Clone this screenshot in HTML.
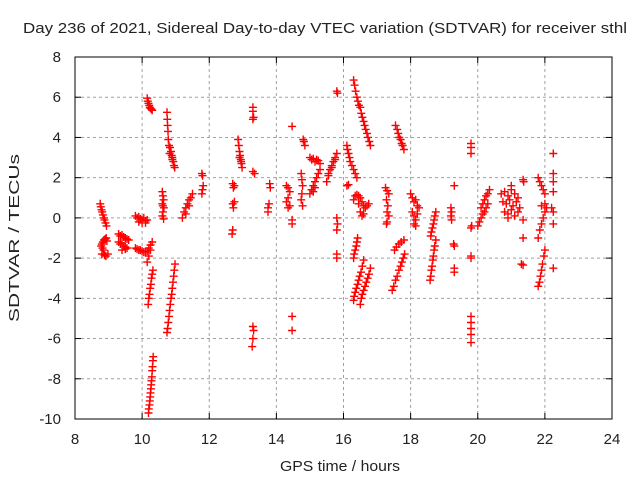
<!DOCTYPE html>
<html><head><meta charset="utf-8"><style>
html,body{margin:0;padding:0;background:#fff;}
svg{display:block;font-family:"Liberation Sans",sans-serif;}
</style></head><body>
<svg id="chart" width="640" height="480" viewBox="0 0 640 480">
<text x="325" y="33" text-anchor="middle" font-size="15" textLength="604" lengthAdjust="spacingAndGlyphs" fill="#222">Day 236 of 2021, Sidereal Day-to-day VTEC variation (SDTVAR) for receiver sthl</text>
<text x="340" y="471" text-anchor="middle" font-size="15" textLength="120" lengthAdjust="spacingAndGlyphs" fill="#222">GPS time / hours</text>
<text transform="translate(19,238) rotate(-90)" text-anchor="middle" font-size="15" textLength="168" lengthAdjust="spacingAndGlyphs" fill="#222">SDTVAR / TECUs</text>
<g id="grid"></g>
<g id="ticks"></g>
<g id="marks"></g>
<rect x="75" y="57" width="537" height="362" fill="none" stroke="#000" stroke-width="1"></rect>
</svg>
<script>
const xTicks = [8,10,12,14,16,18,20,22,24];
const yTicks = [-10,-8,-6,-4,-2,0,2,4,6,8];
const hours = [
8.75,8.77,8.79,8.81,8.83,8.86,8.88,8.91,8.94,
8.78,8.8,8.83,8.86,8.9,8.93,8.95,8.82,8.85,8.8,8.88,8.92,8.98,
9.3,9.35,9.4,9.45,9.5,9.55,9.6,9.3,9.35,9.4,9.45,9.5,9.55,9.4,9.5,
9.8,9.85,9.9,9.95,10.0,10.05,10.1,10.15,9.9,10.0,10.1,
9.8,9.85,9.9,9.95,10.0,10.05,10.1,10.15,10.2,10.25,10.3,10.25,10.2,10.15,
10.32,10.3,10.28,10.26,10.24,10.22,10.2,10.18,
10.33,10.32,10.31,10.3,10.29,10.28,10.27,10.26,10.25,10.24,10.23,10.22,10.2,10.19,
10.15,10.17,10.19,10.21,10.23,10.25,10.28,10.3,
10.74,10.75,10.76,10.77,10.78,10.8,10.83,10.86,10.88,10.9,10.93,10.95,10.97,10.82,10.9,
10.98,10.96,10.94,10.92,10.9,10.88,10.86,10.84,10.82,10.8,10.78,10.76,10.74,
10.6,10.62,10.64,10.6,10.65,10.62,10.6,10.64,10.62,
11.2,11.25,11.3,11.35,11.4,11.45,11.5,11.3,11.4,
11.78,11.8,11.82,11.8,11.78,
13.3,13.3,13.32,13.3,
12.86,12.88,12.9,12.92,12.94,12.96,12.98,12.9,12.95,
13.3,13.35,12.7,12.75,12.72,12.7,12.72,12.75,12.68,12.7,
13.8,13.82,13.75,13.78,13.75,
13.3,13.32,13.3,13.28,
14.47,14.8,14.82,14.85,
15.0,15.05,15.1,15.15,15.2,15.25,15.3,
15.5,15.55,15.6,15.65,15.7,15.75,15.8,15.55,15.65,15.75,
15.0,15.05,15.1,15.15,15.2,15.25,15.3,15.1,15.15,
14.74,14.76,14.78,14.76,14.74,14.78,
14.3,14.35,14.4,14.35,14.3,14.4,14.35,
14.47,14.47,15.8,15.82,15.8,15.82,15.8,15.8,15.8,14.47,14.47,
16.3,16.33,16.36,16.4,16.43,16.46,16.5,16.53,16.56,16.6,16.63,16.66,16.7,16.73,16.77,16.8,
17.55,17.6,17.63,17.66,17.7,17.73,17.76,17.8,
16.1,16.12,16.15,16.18,16.2,16.25,16.3,16.35,16.4,16.1,16.15,
16.3,16.35,16.4,16.45,16.5,16.55,16.6,16.65,16.7,16.75,16.5,16.55,16.6,16.45,
17.25,17.3,17.35,17.28,17.32,17.3,17.35,17.28,17.3,
18.0,18.05,18.1,18.15,18.2,18.25,18.05,18.1,18.15,18.2,18.1,18.15,
16.42,16.4,16.38,16.35,16.32,16.3,
16.6,16.56,16.52,16.48,16.45,16.42,16.38,16.35,16.32,16.3,
16.8,16.76,16.72,16.68,16.64,16.6,16.56,16.53,16.5,
17.8,17.72,17.65,17.58,17.52,
17.82,17.78,17.74,17.7,17.65,17.6,17.55,17.5,17.45,
18.75,18.72,18.7,18.68,18.65,18.62,18.6,
18.75,18.72,18.7,18.68,18.66,18.64,18.62,18.6,18.58,
19.3,19.2,19.22,19.2,19.22,19.3,19.28,19.3,19.3,
19.8,19.8,19.8,19.8,19.82,19.8,19.8,19.8,19.8,19.8,19.8,19.8,
20.1,20.15,20.2,20.25,20.3,20.35,
20.0,20.05,20.1,20.15,20.2,20.25,20.3,
20.7,20.8,20.9,21.0,21.1,21.2,20.75,20.85,20.95,21.05,21.15,21.25,20.8,20.9,21.0,21.1,21.2,20.9,21.0,
21.35,21.37,21.35,21.35,21.3,21.35,
21.8,21.85,21.9,21.95,22.0,
21.9,22.0,22.05,
22.0,21.95,21.9,21.85,21.8,
22.0,21.97,21.93,21.9,21.87,21.84,21.8,
22.25,22.25,22.25,22.25,22.2,22.25,22.25,22.25
];
const sdtvar = [
0.7,0.55,0.4,0.3,0.15,0,-0.1,-0.25,-0.4,
-1.4,-1.3,-1.2,-1.1,-1.05,-1.0,-1.15,-1.5,-1.6,-1.8,-1.85,-1.9,-1.8,
-0.8,-0.9,-0.85,-0.95,-1.0,-1.05,-1.1,-1.2,-1.3,-1.25,-1.4,-1.45,-1.5,-1.6,-1.55,
0.1,0.0,0.05,-0.05,-0.1,0.0,-0.15,-0.1,-0.2,-0.25,-0.25,
-1.5,-1.55,-1.6,-1.6,-1.65,-1.7,-1.7,-1.65,-1.5,-1.35,-1.2,-1.6,-1.9,-2.2,
-2.6,-2.8,-3.0,-3.3,-3.5,-3.8,-4.0,-4.3,
-6.9,-7.1,-7.4,-7.6,-7.9,-8.1,-8.3,-8.5,-8.7,-8.9,-9.1,-9.3,-9.5,-9.7,
5.95,5.8,5.7,5.6,5.5,5.45,5.4,5.35,
5.25,4.9,4.6,4.3,3.9,3.6,3.5,3.3,3.1,2.9,2.8,2.6,2.5,3.2,3.0,
-2.3,-2.6,-2.9,-3.2,-3.5,-3.8,-4.0,-4.3,-4.6,-4.9,-5.2,-5.5,-5.7,
1.3,1.1,0.9,0.7,0.5,0.3,0.1,-0.05,0.6,
0.0,0.3,0.5,0.7,0.9,1.0,1.2,0.2,0.6,
2.2,2.1,1.6,1.4,1.2,
5.5,5.3,5.0,4.9,
3.9,3.6,3.3,3.1,2.9,2.7,2.5,3.0,2.8,
2.3,2.2,1.7,1.6,1.5,0.7,0.5,0.8,-0.8,-0.6,
1.7,1.5,0.5,0.7,0.3,
-5.4,-5.6,-6.0,-6.4,
4.55,3.9,3.8,3.6,
3.0,2.9,2.95,2.8,2.9,2.85,2.7,
1.8,2.1,2.4,2.6,2.8,3.0,3.2,2.2,2.5,2.9,
1.2,1.4,1.6,1.8,2.0,2.2,2.4,1.3,1.5,
2.2,1.9,1.6,1.2,0.9,0.6,
1.6,1.5,1.3,1.0,0.8,0.6,0.5,
-0.1,-0.3,6.3,6.2,0.0,-0.3,-0.6,-1.8,-2.0,-4.9,-5.6,
6.85,6.6,6.3,6.0,5.8,5.6,5.5,5.2,5.0,4.8,4.6,4.4,4.2,4.0,3.8,3.6,
4.6,4.4,4.2,4.0,3.9,3.7,3.6,3.4,
3.6,3.4,3.2,3.0,2.8,2.6,2.4,2.2,2.0,1.6,1.65,
0.9,1.1,1.15,1.1,1.0,0.8,0.6,0.5,0.6,0.7,0.3,0.1,0.2,0.7,
1.5,1.35,1.2,0.9,0.6,0.3,0.1,-0.3,-0.2,
1.2,1.0,0.8,0.9,0.6,0.5,0.3,0.1,-0.1,0.2,-0.3,-0.4,
-1.0,-1.2,-1.4,-1.6,-1.8,-2.0,
-2.1,-2.4,-2.7,-2.9,-3.1,-3.3,-3.5,-3.7,-3.9,-4.1,
-2.5,-2.8,-3.0,-3.2,-3.4,-3.6,-3.8,-4.0,-4.3,
-1.1,-1.2,-1.3,-1.45,-1.6,
-1.8,-2.0,-2.2,-2.4,-2.6,-2.9,-3.1,-3.4,-3.6,
0.3,0.1,-0.1,-0.3,-0.5,-0.7,-0.9,
-1.1,-1.4,-1.6,-1.9,-2.1,-2.4,-2.6,-2.9,-3.1,
1.6,0.5,0.3,0.1,-0.1,-1.4,-1.3,-2.5,-2.7,
3.7,3.5,3.2,-0.5,-0.4,-1.9,-2.0,-4.9,-5.2,-5.5,-5.8,-6.2,
0.5,0.7,0.9,1.1,1.2,1.4,
-0.4,-0.2,0.0,0.2,0.3,0.5,0.7,
1.2,1.3,1.1,1.4,1.2,1.0,0.8,0.7,0.9,0.6,0.8,0.5,0.3,0.2,0.4,0.1,0.3,0.0,1.6,
1.9,1.8,-0.1,-1.0,-2.3,-2.35,
2.0,1.8,1.6,1.4,1.2,
0.6,0.7,0.5,
0.3,0.0,-0.3,-0.6,-1.0,
-1.6,-1.9,-2.3,-2.6,-2.9,-3.2,-3.4,
3.2,2.2,1.8,1.3,0.5,0.3,-0.3,-2.5
];
const NS='http://www.w3.org/2000/svg';
const L=75,R=612,T=57,B=419,XMIN=8,XMAX=24,YMIN=-10,YMAX=8;
function sx(v){return L+(v-XMIN)/(XMAX-XMIN)*(R-L);}
function sy(v){return B-(v-YMIN)/(YMAX-YMIN)*(B-T);}
function mk(tag,attrs,parent){const e=document.createElementNS(NS,tag);for(const k in attrs)e.setAttribute(k,attrs[k]);parent.appendChild(e);return e;}
const grid=document.getElementById('grid'),ticks=document.getElementById('ticks'),marks=document.getElementById('marks');
xTicks.forEach(t=>{
  const x=sx(t);
  if(t>XMIN&&t<XMAX){const g=mk('line',{x1:x,x2:x,y1:T,y2:B,stroke:'#a0a0a0','stroke-dasharray':'3,3'},grid);
  
  }
  mk('line',{x1:x,x2:x,y1:B,y2:B-6,stroke:'#000'},ticks);
  mk('line',{x1:x,x2:x,y1:T,y2:T+6,stroke:'#000'},ticks);
  const tx=mk('text',{x:x,y:B+25,'text-anchor':'middle','font-size':'15',fill:'#222'},ticks);
  tx.textContent=t;
  
  
});
yTicks.forEach(t=>{
  const y=sy(t);
  if(t>YMIN&&t<YMAX){const g=mk('line',{x1:L,x2:R,y1:y,y2:y,stroke:'#a0a0a0','stroke-dasharray':'3,3'},grid);
  
  }
  mk('line',{x1:L,x2:L+6,y1:y,y2:y,stroke:'#000'},ticks);
  mk('line',{x1:R,x2:R-6,y1:y,y2:y,stroke:'#000'},ticks);
  const tx=mk('text',{x:L-14,y:y+5,'text-anchor':'end','font-size':'15',fill:'#222'},ticks);
  tx.textContent=t;
  
  
});
let d='';
for(let i=0;i<hours.length;i++){
  const x=sx(hours[i]),y=sy(sdtvar[i]);
  d+='M'+(x-4).toFixed(1)+' '+y.toFixed(1)+'h8M'+x.toFixed(1)+' '+(y-4).toFixed(1)+'v8';
}
const p=mk('path',{d:d,stroke:'#ff0000','stroke-width':'1.4',fill:'none'},marks);


</script>
</body></html>
